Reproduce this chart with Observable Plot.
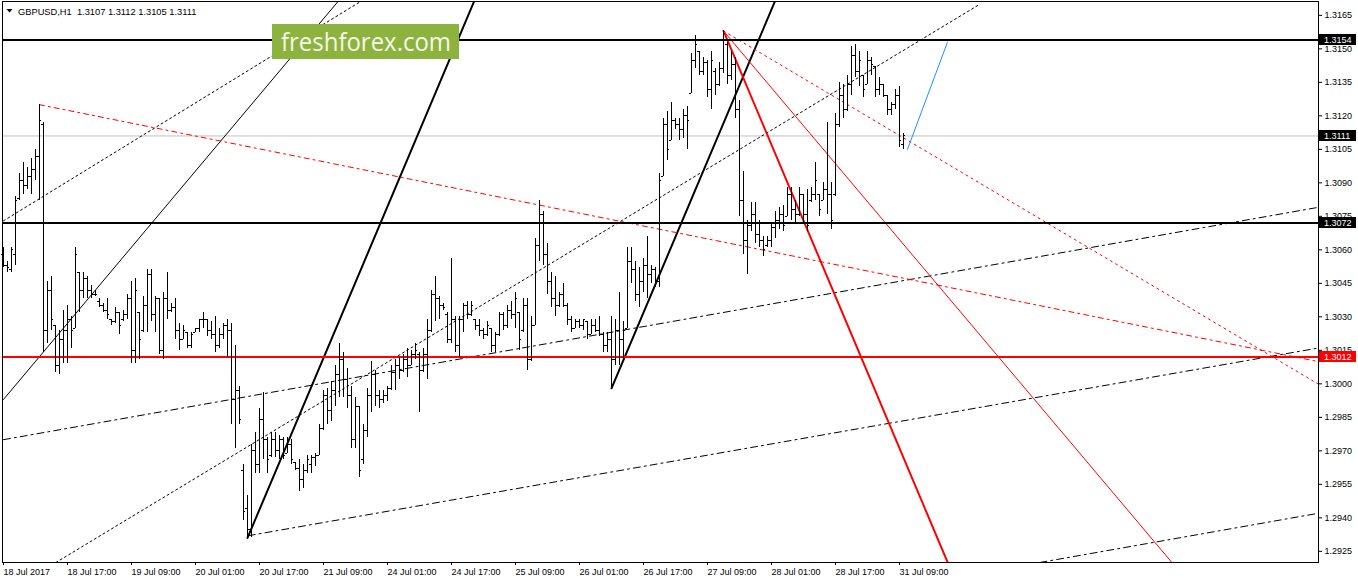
<!DOCTYPE html>
<html><head><meta charset="utf-8">
<script src="https://cdn.jsdelivr.net/npm/d3@7"></script>
<script src="https://cdn.jsdelivr.net/npm/@observablehq/plot@0.6"></script>
<style>
html,body{margin:0;padding:0;background:#fff;}
#chart{position:relative;width:1358px;height:584px;overflow:hidden;}
svg{display:block;}
</style></head><body><div id="chart"></div>
<script>
// ---- GBPUSD H1 bars (bar index 0 = 18 Jul 2017 01:00) ----
const opens = [
1.3058,1.3053,1.3051,1.3058,1.3083,1.3091,1.3089,1.3093,1.3096,1.3102,
1.3116,1.3024,1.3042,1.3026,1.3008,1.3020,1.3024,1.3029,1.3025,1.3050,
1.3042,1.3047,1.3042,1.3040,1.3037,1.3035,1.3033,1.3029,1.3028,1.3032,
1.3029,1.3031,1.3038,1.3015,1.3032,1.3024,1.3035,1.3049,1.3031,1.3038,
1.3015,1.3038,1.3033,1.3034,1.3024,1.3020,1.3023,1.3017,1.3023,1.3025,
1.3029,1.3029,1.3024,1.3022,1.3017,1.3022,1.3026,1.3024,1.2993,1.2997,
1.2961,1.2944,1.2935,1.2970,1.2964,1.2984,1.2975,1.2968,1.2975,1.2970,
1.2975,1.2969,1.2973,1.2965,1.2962,1.2957,1.2961,1.2964,1.2967,1.2968,
1.2980,1.2995,1.2988,1.2997,1.3004,1.3011,1.3002,1.2995,1.2975,1.2990,
1.2966,1.2979,1.2995,1.3004,1.2995,1.2993,1.2995,1.2998,1.3005,1.3008,
1.3006,1.3011,1.3008,1.3013,1.3013,1.3006,1.3013,1.3024,1.3040,1.3038,
1.3035,1.3031,1.3020,1.3029,1.3017,1.3029,1.3035,1.3031,1.3029,1.3026,
1.3024,1.3022,1.3025,1.3017,1.3022,1.3031,1.3026,1.3033,1.3031,1.3032,
1.3024,1.3035,1.3011,1.3026,1.3062,1.3076,1.3058,1.3046,1.3038,1.3035,
1.3040,1.3035,1.3029,1.3025,1.3028,1.3026,1.3028,1.3022,1.3026,1.3024,
1.3022,1.3017,1.3020,1.3011,1.3024,1.3020,1.3025,1.3055,1.3051,1.3040,
1.3046,1.3053,1.3049,1.3051,1.3046,1.3093,1.3116,1.3109,1.3118,1.3116,
1.3114,1.3120,1.3130,1.3145,1.3149,1.3140,1.3144,1.3132,1.3140,1.3134,
1.3141,1.3152,1.3138,1.3143,1.3123,1.3082,1.3064,1.3071,1.3076,1.3067,
1.3064,1.3062,1.3064,1.3070,1.3073,1.3076,1.3075,1.3085,1.3078,1.3076,
1.3085,1.3076,1.3082,1.3085,1.3085,1.3082,1.3087,1.3085,1.3085,1.3116,
1.3129,1.3123,1.3134,1.3147,1.3140,1.3138,1.3134,1.3145,1.3142,1.3132,
1.3134,1.3129,1.3123,1.3125,1.3129,1.3107];
const highs = [
1.3061,1.3055,1.3061,1.3084,1.3094,1.3099,1.3097,1.3101,1.3105,1.3125,
1.3117,1.3046,1.3048,1.3026,1.3024,1.3033,1.3035,1.3030,1.3061,1.3050,
1.3050,1.3048,1.3044,1.3042,1.3038,1.3036,1.3038,1.3029,1.3034,1.3032,
1.3033,1.3040,1.3046,1.3047,1.3032,1.3039,1.3051,1.3051,1.3039,1.3038,
1.3041,1.3050,1.3036,1.3038,1.3027,1.3026,1.3023,1.3023,1.3025,1.3029,
1.3032,1.3029,1.3028,1.3030,1.3025,1.3027,1.3029,1.3027,1.3017,1.2999,
1.2964,1.2950,1.2973,1.2978,1.2989,1.2996,1.2976,1.2978,1.2978,1.2977,
1.2976,1.2976,1.2975,1.2965,1.2966,1.2964,1.2968,1.2968,1.2969,1.2982,
1.2997,1.2998,1.3001,1.3008,1.3018,1.3014,1.3007,1.2999,1.2994,1.2990,
1.2982,1.2998,1.3010,1.3006,1.2997,1.2997,1.2999,1.3008,1.3011,1.3012,
1.3013,1.3016,1.3015,1.3018,1.3014,1.3016,1.3029,1.3042,1.3048,1.3039,
1.3036,1.3032,1.3056,1.3030,1.3030,1.3036,1.3037,1.3037,1.3029,1.3029,
1.3025,1.3028,1.3025,1.3023,1.3032,1.3032,1.3035,1.3037,1.3041,1.3032,
1.3038,1.3038,1.3030,1.3065,1.3082,1.3077,1.3063,1.3050,1.3048,1.3041,
1.3045,1.3036,1.3030,1.3029,1.3029,1.3029,1.3028,1.3029,1.3029,1.3030,
1.3023,1.3023,1.3030,1.3029,1.3041,1.3028,1.3061,1.3061,1.3055,1.3052,
1.3056,1.3066,1.3053,1.3052,1.3094,1.3119,1.3122,1.3126,1.3119,1.3119,
1.3123,1.3124,1.3148,1.3156,1.3149,1.3146,1.3145,1.3149,1.3141,1.3144,
1.3158,1.3153,1.3149,1.3146,1.3127,1.3095,1.3073,1.3081,1.3081,1.3073,
1.3066,1.3066,1.3072,1.3077,1.3079,1.3080,1.3088,1.3088,1.3082,1.3088,
1.3085,1.3087,1.3088,1.3099,1.3085,1.3090,1.3117,1.3090,1.3121,1.3135,
1.3134,1.3138,1.3151,1.3152,1.3149,1.3138,1.3149,1.3146,1.3142,1.3137,
1.3134,1.3129,1.3126,1.3132,1.3133,1.3112];
const lows = [
1.3052,1.3050,1.3050,1.3053,1.3082,1.3085,1.3087,1.3085,1.3091,1.3082,
1.3014,1.3018,1.3024,1.3005,1.3004,1.3009,1.3009,1.3016,1.3025,1.3032,
1.3038,1.3038,1.3038,1.3039,1.3034,1.3032,1.3029,1.3026,1.3027,1.3022,
1.3028,1.3029,1.3009,1.3009,1.3011,1.3023,1.3023,1.3028,1.3023,1.3013,
1.3011,1.3029,1.3032,1.3020,1.3015,1.3020,1.3016,1.3016,1.3023,1.3023,
1.3025,1.3021,1.3020,1.3014,1.3016,1.3020,1.3012,1.2982,1.2971,1.2982,
1.2939,1.2931,1.2931,1.2960,1.2960,1.2966,1.2960,1.2967,1.2967,1.2966,
1.2966,1.2969,1.2964,1.2961,1.2952,1.2953,1.2960,1.2960,1.2963,1.2968,
1.2979,1.2982,1.2983,1.2990,1.2994,1.2994,1.2989,1.2971,1.2971,1.2958,
1.2964,1.2976,1.2987,1.2990,1.2989,1.2991,1.2992,1.2997,1.2997,1.3002,
1.3005,1.3003,1.3008,1.3011,1.2987,1.3005,1.3002,1.3023,1.3028,1.3029,
1.3033,1.3018,1.3018,1.3014,1.3012,1.3023,1.3029,1.3030,1.3024,1.3021,
1.3020,1.3021,1.3014,1.3014,1.3021,1.3024,1.3025,1.3029,1.3025,1.3015,
1.3023,1.3006,1.3010,1.3026,1.3055,1.3053,1.3040,1.3034,1.3030,1.3034,
1.3034,1.3026,1.3023,1.3025,1.3025,1.3024,1.3020,1.3022,1.3023,1.3021,
1.3014,1.3014,1.2998,1.3008,1.3008,1.3010,1.3025,1.3045,1.3037,1.3034,
1.3041,1.3038,1.3045,1.3043,1.3043,1.3093,1.3100,1.3109,1.3114,1.3109,
1.3110,1.3105,1.3130,1.3141,1.3138,1.3138,1.3128,1.3123,1.3129,1.3133,
1.3139,1.3134,1.3136,1.3119,1.3075,1.3058,1.3049,1.3068,1.3063,1.3061,
1.3057,1.3061,1.3061,1.3065,1.3069,1.3068,1.3075,1.3073,1.3072,1.3075,
1.3072,1.3068,1.3081,1.3082,1.3075,1.3082,1.3076,1.3069,1.3084,1.3115,
1.3119,1.3122,1.3129,1.3137,1.3133,1.3128,1.3134,1.3138,1.3128,1.3129,
1.3128,1.3120,1.3120,1.3123,1.3106,1.3105];
const closes = [
1.3053,1.3052,1.3060,1.3082,1.3091,1.3089,1.3093,1.3096,1.3102,1.3118,
1.3024,1.3042,1.3029,1.3008,1.3020,1.3024,1.3029,1.3024,1.3058,1.3042,
1.3047,1.3042,1.3040,1.3040,1.3035,1.3033,1.3031,1.3028,1.3032,1.3026,
1.3031,1.3038,1.3015,1.3042,1.3020,1.3035,1.3049,1.3031,1.3038,1.3015,
1.3038,1.3033,1.3034,1.3024,1.3020,1.3024,1.3017,1.3022,1.3025,1.3029,
1.3029,1.3024,1.3022,1.3017,1.3022,1.3026,1.3024,1.2993,1.2997,1.2984,
1.2943,1.2935,1.2970,1.2964,1.2984,1.2975,1.2966,1.2975,1.2970,1.2975,
1.2968,1.2973,1.2966,1.2962,1.2957,1.2961,1.2966,1.2967,1.2968,1.2980,
1.2995,1.2988,1.2997,1.3004,1.3011,1.3002,1.2995,1.2975,1.2990,1.2961,
1.2979,1.2995,1.3004,1.2995,1.2993,1.2995,1.2998,1.3005,1.3008,1.3006,
1.3011,1.3008,1.3013,1.3015,1.3006,1.3013,1.3024,1.3040,1.3038,1.3035,
1.3034,1.3020,1.3029,1.3017,1.3029,1.3035,1.3031,1.3035,1.3026,1.3024,
1.3022,1.3026,1.3017,1.3022,1.3031,1.3026,1.3033,1.3031,1.3038,1.3020,
1.3035,1.3011,1.3026,1.3062,1.3076,1.3058,1.3046,1.3038,1.3035,1.3040,
1.3035,1.3029,1.3025,1.3028,1.3026,1.3029,1.3022,1.3026,1.3024,1.3022,
1.3017,1.3020,1.3011,1.3024,1.3020,1.3024,1.3055,1.3051,1.3040,1.3046,
1.3053,1.3049,1.3051,1.3046,1.3091,1.3116,1.3105,1.3118,1.3116,1.3114,
1.3120,1.3118,1.3145,1.3152,1.3140,1.3144,1.3132,1.3145,1.3134,1.3141,
1.3154,1.3138,1.3143,1.3123,1.3082,1.3064,1.3071,1.3076,1.3067,1.3064,
1.3060,1.3064,1.3070,1.3073,1.3076,1.3071,1.3085,1.3078,1.3076,1.3085,
1.3076,1.3071,1.3085,1.3091,1.3078,1.3087,1.3085,1.3073,1.3116,1.3129,
1.3123,1.3134,1.3147,1.3140,1.3145,1.3132,1.3145,1.3143,1.3132,1.3134,
1.3129,1.3123,1.3125,1.3129,1.3109,1.3111];

// ---- time axis ----
const tickBars = [0,16,32,48,64,80,96,112,128,144,160,176,192,208,224];
const tickLabels = ["18 Jul 2017","18 Jul 17:00","19 Jul 09:00","20 Jul 01:00","20 Jul 17:00","21 Jul 09:00","24 Jul 01:00","24 Jul 17:00","25 Jul 09:00","26 Jul 01:00","26 Jul 17:00","27 Jul 09:00","28 Jul 01:00","28 Jul 17:00","31 Jul 09:00"];
// ---- price axis ----
const priceTicks = [1.2925,1.2940,1.2955,1.2970,1.2985,1.3000,1.3015,1.3030,1.3045,1.3060,1.3075,1.3090,1.3105,1.3120,1.3135,1.3150,1.3165];
const priceDomain = [1.29200, 1.31712];
const barDomain = [-0.25, 328.75];

// ---- horizontal levels ----
const levelPrices = [1.3154, 1.3072, 1.3012];
const levelKinds = ["black", "black", "red"];
const bidPrice = 1.3111;

// ---- trend lines (bar index, price) ----
const lineNames      = ["thinUp","dotUpper","thickA","thickB","dotLower","dashMid","dashLow","dashBottom","redDash","redDot","redThin","redThick","blue"];
const lineFromBar    = [0,      0,      61,     152,    13.1,   0,      61.2,   259.1,  9,      180,    180,    180,    226];
const lineFromPrice  = [1.2993, 1.3073, 1.2931, 1.2998, 1.2920, 1.2975, 1.2932, 1.2920, 1.3125, 1.3158, 1.3158, 1.3158, 1.3105];
const lineToBar      = [84,     90,     117.6,  192.8,  244.1,  328.6,  328.6,  328.6,  328.6,  328.6,  292.1,  236.05, 236];
const lineToPrice    = [1.3172, 1.3172, 1.3171, 1.3171, 1.3170, 1.3079, 1.3016, 1.2942, 1.3010, 1.3000, 1.2920, 1.2920, 1.3153];

// styles (kept apart from the values)
const lineStyle = {
  thinUp:     {stroke:"#000", strokeWidth:1},
  dotUpper:   {stroke:"#000", strokeWidth:1, strokeDasharray:"2,3"},
  thickA:     {stroke:"#000", strokeWidth:2},
  thickB:     {stroke:"#000", strokeWidth:2},
  dotLower:   {stroke:"#000", strokeWidth:1, strokeDasharray:"2,3"},
  dashMid:    {stroke:"#000", strokeWidth:1, strokeDasharray:"7,4,2,4"},
  dashLow:    {stroke:"#000", strokeWidth:1, strokeDasharray:"7,4,2,4"},
  dashBottom: {stroke:"#000", strokeWidth:1, strokeDasharray:"7,4,2,4"},
  redDash:    {stroke:"#ff0000", strokeWidth:1, strokeDasharray:"5,4,2,4"},
  redDot:     {stroke:"#ff0000", strokeWidth:1, strokeDasharray:"2,4"},
  redThin:    {stroke:"#ff0000", strokeWidth:1},
  redThick:   {stroke:"#ff0000", strokeWidth:2},
  blue:       {stroke:"#1e90ff", strokeWidth:1}
};
const levelColor = {black:"#000000", red:"#ff0000"};

const bars = opens.map((o, i) => ({i, open:o, high:highs[i], low:lows[i], close:closes[i]}));
const levels = levelPrices.map((p, k) => ({p, kind: levelKinds[k]}));

const W = 1358, H = 584, mL = 2, mR = 40, mT = 1, mB = 22;
const font = "'Liberation Sans', Arial, sans-serif";

const trendMarks = lineNames.map((name, k) =>
  Plot.line([[lineFromBar[k], lineFromPrice[k]], [lineToBar[k], lineToPrice[k]]],
    {...lineStyle[name], clip: true}));

const chart = Plot.plot({
  width: W, height: H,
  marginLeft: mL, marginRight: mR, marginTop: mT, marginBottom: mB,
  style: {fontFamily: font, fontSize: "9px", color: "#000", background: "#fff", overflow: "visible"},
  x: {type: "linear", domain: barDomain, axis: null, label: null},
  y: {type: "linear", domain: priceDomain, axis: null, label: null},
  marks: [
    Plot.ruleY([bidPrice], {stroke: "#c0c0c0", strokeWidth: 1}),
    ...trendMarks,
    Plot.ruleY(levels, {y: "p", stroke: d => levelColor[d.kind], strokeWidth: 2}),
    Plot.ruleX(bars, {x: "i", y1: "low", y2: "high", stroke: "#000", strokeWidth: 1, shapeRendering: "crispEdges"}),
    Plot.ruleY(bars, {y: "open", x1: d => d.i - 0.45, x2: "i", stroke: "#000", strokeWidth: 1, shapeRendering: "crispEdges"}),
    Plot.ruleY(bars, {y: "close", x1: "i", x2: d => d.i + 0.45, stroke: "#000", strokeWidth: 1, shapeRendering: "crispEdges"}),
    Plot.frame({stroke: "#000", strokeWidth: 1, shapeRendering: "crispEdges"}),
    Plot.axisX({ticks: tickBars, tickFormat: (d) => tickLabels[tickBars.indexOf(d)], tickSize: 3, tickPadding: 3,
      textAnchor: "start", dx: 0, fontSize: 9, stroke: "#000", label: null}),
    Plot.axisY({anchor: "right", ticks: priceTicks, tickFormat: d3.format(".4f"), tickSize: 3, tickPadding: 3,
      fontSize: 9, stroke: "#000", label: null})
  ]
});

document.getElementById("chart").appendChild(chart);

// price tags on the right axis, positioned with the y scale
const ys = chart.scale("y");
const svg = d3.select(chart);
const tags = svg.append("g").attr("font-family", font).attr("font-size", 9).attr("text-anchor", "start");
const tagList = [
  {p: levelPrices[0], fill: levelColor[levelKinds[0]]},
  {p: bidPrice, fill: "#000000"},
  {p: levelPrices[1], fill: levelColor[levelKinds[1]]},
  {p: levelPrices[2], fill: levelColor[levelKinds[2]]}
];
tagList.forEach(t => {
  const yy = ys.apply(t.p) + 0.5;
  tags.append("rect").attr("x", W - mR + 1).attr("y", Math.round(yy) - 6).attr("width", 37).attr("height", 11).attr("fill", t.fill);
  tags.append("text").attr("x", W - mR + 6).attr("y", Math.round(yy)).attr("dy", "0.33em").attr("fill", "#fff")
    .attr("text-anchor", "start").text(d3.format(".4f")(t.p));
});

// header (symbol, timeframe and current OHLC)
const hdr = svg.append("g").attr("font-family", font).attr("font-size", 9.3).attr("text-anchor", "start");
hdr.append("path").attr("d", "M6.5,9 L12.5,9 L9.5,12.5 Z").attr("fill", "#000");
hdr.append("text").attr("x", 18).attr("y", 14.5).attr("fill", "#000").attr("text-anchor", "start")
  .style("white-space", "pre")
  .text(`GBPUSD,H1  ${d3.format(".4f")(opens[225])} ${d3.format(".4f")(highs[225])} ${d3.format(".4f")(lows[225])} ${d3.format(".4f")(closes[225])}`);

// watermark
const wm = svg.append("g").attr("text-anchor", "start");
wm.append("rect").attr("x", 272).attr("y", 24).attr("width", 187).attr("height", 35).attr("fill", "#8db33f");
wm.append("text").attr("x", 281).attr("y", 51).attr("fill", "#f4f8ea").attr("text-anchor", "start")
  .attr("font-family", "'Open Sans', 'Noto Sans', sans-serif").attr("font-size", 26)
  .attr("textLength", 170).attr("lengthAdjust", "spacingAndGlyphs").text("freshforex.com");
</script></body></html>
